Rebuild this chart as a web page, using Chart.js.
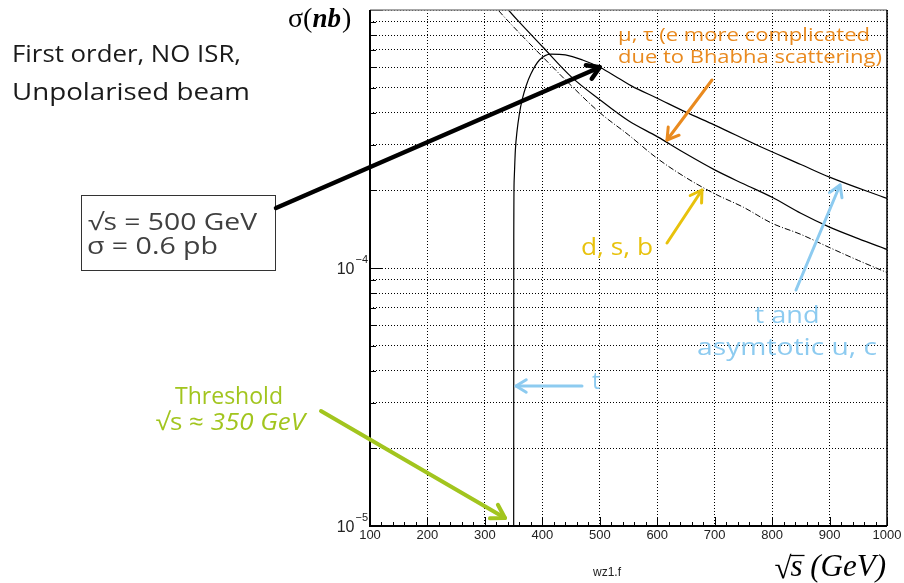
<!DOCTYPE html>
<html>
<head>
<meta charset="utf-8">
<script src="https://cdn.jsdelivr.net/npm/chart.js@4/dist/chart.umd.min.js"></script>
<style>
  html, body { margin: 0; padding: 0; background: #ffffff; }
  #wrap { width: 904px; height: 583px; }
  canvas { background: #ffffff; display: block; }
</style>
</head>
<body>
<div id="wrap"><canvas id="chart" width="904" height="583"></canvas></div>
<script>
// e+e- -> f fbar, first order, no ISR, unpolarised beams.
// sqrt(s) in GeV, sigma in nb.
const tSqrtS  = [350.0, 350.3, 351, 353, 356, 360, 365, 372, 380, 395, 415, 440, 470, 500, 535, 555, 600, 650, 700, 780, 850, 900, 1000];
const tSigma  = [1e-6, 1.3e-4, 2.2e-4, 2.85e-4, 3.4e-4, 3.95e-4, 4.5e-4, 5.1e-4, 5.65e-4, 6.4e-4, 6.75e-4, 6.7e-4, 6.4e-4, 6.0e-4, 5.4e-4, 5.08e-4, 4.55e-4, 4.02e-4, 3.58e-4, 2.95e-4, 2.52e-4, 2.25e-4, 1.86e-4];

const muSqrtS = [320, 341, 360, 400, 450, 500, 550, 600, 650, 700, 750, 800, 850, 900, 950, 1000];
const muSigma = [1.135e-3, 1.0e-3, 8.97e-4, 7.22e-4, 5.52e-4, 4.49e-4, 3.72e-4, 3.23e-4, 2.77e-4, 2.40e-4, 2.12e-4, 1.88e-4, 1.63e-4, 1.44e-4, 1.30e-4, 1.18e-4];

const dsbSqrtS = [300, 323, 350, 400, 450, 500, 550, 600, 650, 700, 750, 800, 850, 900, 950, 1000];
const dsbSigma = [1.16e-3, 1.0e-3, 8.6e-4, 6.6e-4, 5.1e-4, 4.0e-4, 3.28e-4, 2.66e-4, 2.24e-4, 1.94e-4, 1.72e-4, 1.49e-4, 1.35e-4, 1.2e-4, 1.07e-4, 9.6e-5];

// axes
const xMin = 100, xMax = 1000, xMinorStep = 20, xMajorStep = 100;
const yMin = 1e-5, yMax = 1e-3;
const yDecadeValues = [1e-5, 1e-4];
const yDecadeExponents = ['−5', '−4'];
const yMantissas = [1, 2, 3, 4, 5, 6, 7, 8, 9];
const yDecades = [-5, -4];

// the point called out in the box
const markSqrtS = 500;
const markSigma = 6.0e-4;

const toXY = (xs, ys) => xs.map((x, i) => ({ x: x, y: ys[i] }));

const yGridValues = [];
yDecades.forEach(e => yMantissas.forEach(m => yGridValues.push(m * Math.pow(10, e))));
yGridValues.push(yMax);

const isXMajor = v => Math.abs(v / xMajorStep - Math.round(v / xMajorStep)) < 1e-6;
const isDecade = v => Math.abs(Math.log10(v) - Math.round(Math.log10(v))) < 1e-6;

function drawArrow(ctx, x0, y0, x1, y1, color, width, head) {
  ctx.save();
  ctx.strokeStyle = color;
  ctx.lineWidth = width;
  ctx.lineCap = 'round';
  ctx.lineJoin = 'round';
  ctx.beginPath();
  ctx.moveTo(x0, y0);
  ctx.lineTo(x1, y1);
  ctx.stroke();
  const a = Math.atan2(y1 - y0, x1 - x0);
  const s = 0.55;
  ctx.beginPath();
  ctx.moveTo(x1 - head * Math.cos(a - s), y1 - head * Math.sin(a - s));
  ctx.lineTo(x1, y1);
  ctx.lineTo(x1 - head * Math.cos(a + s), y1 - head * Math.sin(a + s));
  ctx.stroke();
  ctx.restore();
}

// text, optionally stretched horizontally to a given width (wide geometric face)
function drawText(ctx, str, x, y, font, color, align, width) {
  ctx.save();
  ctx.font = font;
  ctx.fillStyle = color;
  ctx.textBaseline = 'alphabetic';
  ctx.textAlign = 'left';
  const w0 = ctx.measureText(str).width;
  const w = width || w0;
  const sx = w / w0;
  let left = x;
  if (align === 'center') left = x - w / 2;
  else if (align === 'right') left = x - w;
  ctx.translate(left, y);
  ctx.scale(sx, 1);
  ctx.fillText(str, 0, 0);
  ctx.restore();
  return w;
}

const framePlugin = {
  id: 'frame',
  afterDatasetsDraw(chart) {
    const { ctx, chartArea: { left, right, top, bottom }, scales: { x, y } } = chart;
    ctx.save();
    ctx.strokeStyle = '#000';
    ctx.lineWidth = 1;
    x.ticks.forEach(t => {
      const px = Math.round(x.getPixelForValue(t.value)) + 0.5;
      const len = isXMajor(t.value) ? 9 : 4;
      ctx.beginPath();
      ctx.moveTo(px, bottom);
      ctx.lineTo(px, bottom - len);
      ctx.stroke();
    });
    y.ticks.forEach(t => {
      const py = Math.round(y.getPixelForValue(t.value)) + 0.5;
      const len = isDecade(t.value) ? 12 : 6;
      ctx.beginPath();
      ctx.moveTo(left, py);
      ctx.lineTo(left + len, py);
      ctx.stroke();
    });
    // frame
    ctx.lineWidth = 1.5;
    ctx.strokeStyle = '#8a8a8a';
    ctx.beginPath(); ctx.moveTo(left, top); ctx.lineTo(right, top); ctx.stroke();
    ctx.strokeStyle = '#000';
    ctx.beginPath(); ctx.moveTo(right, top); ctx.lineTo(right, bottom); ctx.stroke();
    ctx.lineWidth = 2;
    ctx.beginPath(); ctx.moveTo(left, top); ctx.lineTo(left, bottom); ctx.lineTo(right, bottom); ctx.stroke();

    // decade labels of the sigma axis: 10 with a raised exponent
    ctx.fillStyle = '#222';
    ctx.textBaseline = 'alphabetic';
    yDecadeValues.forEach((v, i) => {
      const py = y.getPixelForValue(v);
      ctx.font = '11px "Liberation Sans", sans-serif';
      const we = ctx.measureText(yDecadeExponents[i]).width;
      ctx.textAlign = 'right';
      ctx.fillText(yDecadeExponents[i], left - 2, py - 5);
      ctx.font = '16px "Liberation Sans", sans-serif';
      ctx.fillText('10', left - 3 - we, py + 6);
    });
    ctx.restore();
  }
};

const notesPlugin = {
  id: 'notes',
  afterDraw(chart) {
    const { ctx, scales: { x, y } } = chart;
    const sans = '"Open Sans", "Lato", sans-serif';
    const serif = '"Liberation Serif", "DejaVu Serif", serif';

    // axis names
    ctx.save();
    ctx.fillStyle = '#000';
    ctx.textBaseline = 'alphabetic';
    let cx = 288;
    ctx.font = '28px ' + serif;
    ctx.fillText('σ(', cx, 27); cx += ctx.measureText('σ(').width;
    ctx.font = 'italic bold 27px ' + serif;
    ctx.fillText('nb', cx, 27); cx += ctx.measureText('nb').width + 1;
    ctx.font = '28px ' + serif;
    ctx.fillText(')', cx, 27);

    // sqrt(s) (GeV)
    ctx.font = 'italic 31px ' + serif;
    ctx.textAlign = 'right';
    const wg = ctx.measureText('(GeV)').width;
    ctx.fillText('(GeV)', 886, 576);
    const wsp = ctx.measureText(' ').width;
    const ws = ctx.measureText('s').width;
    const sx = 886 - wg - wsp - ws;
    ctx.textAlign = 'left';
    ctx.fillText('s', sx, 576);
    ctx.font = '31px ' + serif;
    const wr = ctx.measureText('√').width;
    ctx.fillText('√', sx - wr + 1, 578);
    ctx.lineWidth = 1.3;
    ctx.strokeStyle = '#000';
    ctx.beginPath();
    ctx.moveTo(sx, 555.5);
    ctx.lineTo(sx + ws + 2, 555.5);
    ctx.stroke();
    ctx.restore();

    drawText(ctx, 'wz1.f', 593, 576, '12px "Liberation Sans", sans-serif', '#222', 'left');

    // conditions
    drawText(ctx, 'First order, NO ISR,', 12, 62, '24px ' + sans, '#1a1a1a', 'left', 229);
    drawText(ctx, 'Unpolarised beam', 12, 100, '24px ' + sans, '#1a1a1a', 'left', 238);

    // box with the value at 500 GeV
    ctx.save();
    ctx.strokeStyle = '#333';
    ctx.lineWidth = 1;
    ctx.strokeRect(81.5, 195.5, 194, 75);
    ctx.restore();
    drawText(ctx, '√s = 500 GeV', 88, 230, '23px ' + sans, '#404040', 'left', 169);
    drawText(ctx, 'σ = 0.6 pb', 87, 254, '23px ' + sans, '#404040', 'left', 131);
    drawArrow(ctx, 276, 208, x.getPixelForValue(markSqrtS), y.getPixelForValue(markSigma), '#000', 4.5, 14);

    // mu, tau
    const orange = '#E98A1F';
    drawText(ctx, 'μ, τ (e more complicated', 618, 41, '18px ' + sans, orange, 'left', 252);
    drawText(ctx, 'due to Bhabha scattering)', 618, 63, '18px ' + sans, orange, 'left', 264);
    drawArrow(ctx, 712, 80, 667, 140, orange, 3, 13);

    // d, s, b
    const yellow = '#E8C20C';
    drawText(ctx, 'd, s, b', 653, 255, '23px ' + sans, yellow, 'right', 72);
    drawArrow(ctx, 667, 243, 702, 190, yellow, 3, 13);

    // t and asymptotic u, c
    const blue = '#8DCBF0';
    drawText(ctx, 't and', 787, 323, '23px ' + sans, blue, 'center', 65);
    drawText(ctx, 'asymtotic u, c', 787, 355, '23px ' + sans, blue, 'center', 180);
    drawArrow(ctx, 796, 290, 840, 185, blue, 3, 13);
    drawText(ctx, 't', 592, 389, '23px ' + sans, blue, 'left');
    drawArrow(ctx, 582, 386, 516, 386, blue, 3, 12);

    // threshold
    const green = '#A2C51E';
    drawText(ctx, 'Threshold', 283, 404, '24px ' + sans, green, 'right', 108);
    ctx.save();
    ctx.font = 'italic 24px ' + sans;
    const wItal = ctx.measureText('350 GeV').width * 1.08;
    ctx.restore();
    drawText(ctx, '350 GeV', 305, 430, 'italic 24px ' + sans, green, 'right', wItal);
    ctx.save();
    ctx.font = '24px ' + sans;
    const wSq = ctx.measureText('√s ≈ ').width * 1.08;
    ctx.restore();
    drawText(ctx, '√s ≈ ', 305 - wItal, 430, '24px ' + sans, green, 'right', wSq);
    drawArrow(ctx, 321, 411, 505, 518, green, 4, 15);
  }
};

new Chart(document.getElementById('chart'), {
  type: 'line',
  data: {
    datasets: [
      {
        label: 't',
        data: toXY(tSqrtS, tSigma),
        borderColor: '#000',
        borderWidth: 1.2,
        pointRadius: 0,
        fill: false,
        cubicInterpolationMode: 'monotone'
      },
      {
        label: 'μ, τ',
        data: toXY(muSqrtS, muSigma),
        borderColor: '#000',
        borderWidth: 1.2,
        pointRadius: 0,
        fill: false,
        cubicInterpolationMode: 'monotone'
      },
      {
        label: 'd, s, b',
        data: toXY(dsbSqrtS, dsbSigma),
        borderColor: '#000',
        borderWidth: 1,
        borderDash: [6, 2, 1, 2],
        pointRadius: 0,
        fill: false,
        cubicInterpolationMode: 'monotone'
      }
    ]
  },
  options: {
    responsive: false,
    animation: false,
    devicePixelRatio: 1,
    layout: { padding: { left: 0, right: 17, top: 10, bottom: 0 } },
    plugins: { legend: { display: false }, tooltip: { enabled: false } },
    scales: {
      x: {
        type: 'linear',
        min: xMin,
        max: xMax,
        afterFit(scale) { scale.height = 57; },
        ticks: {
          stepSize: xMinorStep,
          autoSkip: false,
          maxRotation: 0,
          padding: 2,
          color: '#222',
          font: { family: '"Liberation Sans", sans-serif', size: 13 },
          callback: v => isXMajor(v) ? String(Math.round(v)) : ''
        },
        grid: {
          drawTicks: false,
          lineWidth: 1,
          color: c => (c.tick && isXMajor(c.tick.value)) ? '#000' : 'rgba(0,0,0,0)'
        },
        border: { display: false, dash: [1, 2] }
      },
      y: {
        type: 'logarithmic',
        min: yMin,
        max: yMax,
        afterFit(scale) { scale.width = 370; },
        afterBuildTicks(scale) { scale.ticks = yGridValues.map(v => ({ value: v, major: isDecade(v) })); },
        ticks: { display: false, autoSkip: false },
        grid: { drawTicks: false, lineWidth: 1, color: '#000' },
        border: { display: false, dash: [1, 2] }
      }
    }
  },
  plugins: [framePlugin, notesPlugin]
});
</script>
</body>
</html>
